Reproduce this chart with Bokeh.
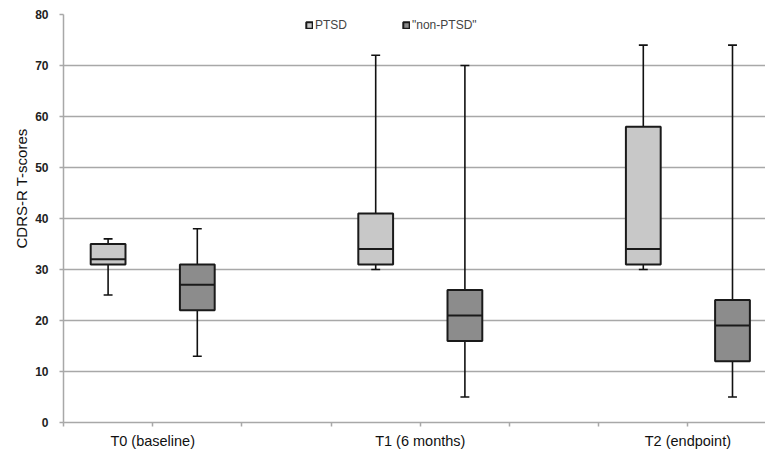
from bokeh.plotting import figure
from bokeh.models import (ColumnDataSource, FixedTicker, Legend, LegendItem, Title, Range1d)
from bokeh.embed import file_html
from bokeh.resources import INLINE

groups = ["T0 (baseline)", "T1 (6 months)", "T2 (endpoint)"]
series = ["PTSD", "\"non-PTSD\""]

ptsd_low = [25, 30, 30]
ptsd_q1 = [31, 31, 31]
ptsd_med = [32, 34, 34]
ptsd_q3 = [35, 41, 58]
ptsd_high = [36, 72, 74]

non_low = [13, 5, 5]
non_q1 = [22, 16, 12]
non_med = [27, 21, 19]
non_q3 = [31, 26, 24]
non_high = [38, 70, 74]

y_ticks = [0, 10, 20, 30, 40, 50, 60, 70, 80]

FONT = "Liberation Sans"
GRID = "#a8a8a8"

p = figure(frame_width=702, frame_height=408, output_backend="svg", toolbar_location=None,
           x_range=Range1d(0, 7.87), y_range=Range1d(0, 80),
           min_border_left=63, min_border_right=0, min_border_top=14, min_border_bottom=0)
p.outline_line_color = None
p.background_fill_color = "white"

slots = 3  # slots per group
def positions(offset):
    return [slots * i + offset for i in range(len(groups))]

fills = ["#c8c8c8", "#8c8c8c"]
stats = [
    (ptsd_low, ptsd_q1, ptsd_med, ptsd_q3, ptsd_high),
    (non_low, non_q1, non_med, non_q3, non_high),
]
box_renderers = []
for k, (lo, q1, md, q3, hi) in enumerate(stats):
    x = positions(0.5 + k)
    src = ColumnDataSource(dict(x=x, lo=lo, q1=q1, md=md, q3=q3, hi=hi,
                                xl=[v - 0.05 for v in x], xr=[v + 0.05 for v in x],
                                bl=[v - 0.195 for v in x], br=[v + 0.195 for v in x]))
    p.segment(x0="x", y0="lo", x1="x", y1="hi", source=src, line_color="#111111", line_width=1.6)
    p.segment(x0="xl", y0="lo", x1="xr", y1="lo", source=src, line_color="#111111", line_width=1.6)
    p.segment(x0="xl", y0="hi", x1="xr", y1="hi", source=src, line_color="#111111", line_width=1.6)
    r = p.vbar(x="x", bottom="q1", top="q3", width=0.39, source=src, fill_color=fills[k],
               line_color="#1a1a1a", line_width=2)
    box_renderers.append(r)
    p.segment(x0="bl", y0="md", x1="br", y1="md", source=src, line_color="#1a1a1a", line_width=2)

# y axis
p.yaxis.ticker = FixedTicker(ticks=y_ticks)
p.yaxis.major_label_text_font = FONT
p.yaxis.major_label_text_font_size = "12px"
p.yaxis.major_label_text_font_style = "bold"
p.yaxis.major_label_text_color = "#222222"
p.yaxis.axis_line_color = GRID
p.yaxis.axis_line_width = 1.5
p.yaxis.major_tick_line_color = GRID
p.yaxis.major_tick_line_width = 1.5
p.yaxis.major_tick_out = 4
p.yaxis.major_tick_in = 0
p.yaxis.minor_tick_line_color = None
p.yaxis.major_label_standoff = 11

# x axis
xt = list(range(slots * len(groups)))
overrides = {t: "" for t in xt}
for i, g in enumerate(groups):
    overrides[slots * i + 1] = g
p.xaxis.ticker = FixedTicker(ticks=xt)
p.xaxis.major_label_overrides = overrides
p.xaxis.major_label_text_font = FONT
p.xaxis.major_label_text_font_size = "14.5px"
p.xaxis.major_label_text_color = "#111111"
p.xaxis.axis_line_color = GRID
p.xaxis.axis_line_width = 1.5
p.xaxis.major_tick_line_color = GRID
p.xaxis.major_tick_line_width = 1.5
p.xaxis.major_tick_out = 4
p.xaxis.major_tick_in = 0
p.xaxis.minor_tick_line_color = None
p.xaxis.major_label_standoff = 6

p.xgrid.grid_line_color = None
p.ygrid.grid_line_color = GRID
p.ygrid.grid_line_width = 1.5

title = Title(text="CDRS-R T-scores", align="left", offset=174, text_font=FONT,
              text_font_size="15px", text_font_style="normal", text_color="#111111", standoff=6)
p.add_layout(title, "left")

legend = Legend(items=[LegendItem(label=series[k], renderers=[box_renderers[k]]) for k in range(2)],
                orientation="horizontal", location=(242, 390), padding=0, margin=0,
                glyph_width=8, glyph_height=8, label_standoff=2, spacing=55,
                label_text_font=FONT, label_text_font_size="12px", label_height=12,
                border_line_color=None, background_fill_alpha=0)
p.add_layout(legend, "center")

open("out.html", "w").write(file_html(p, INLINE))
